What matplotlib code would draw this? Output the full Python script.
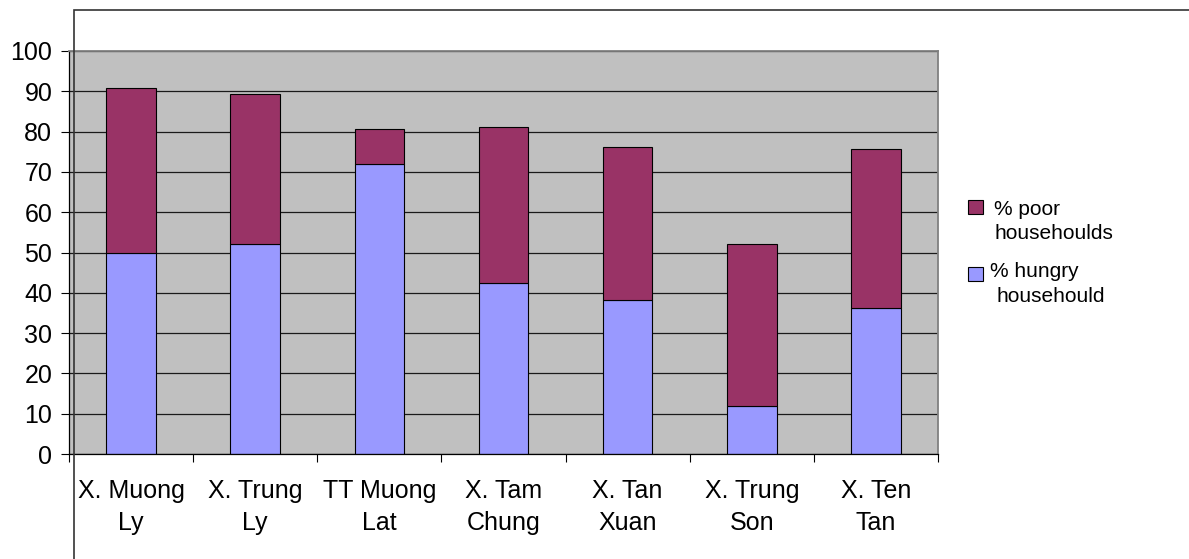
import matplotlib
matplotlib.use("Agg")
import matplotlib.pyplot as plt
from matplotlib.patches import Rectangle

plt.rcParams['font.family'] = ['Liberation Sans', 'DejaVu Sans']

# commune data (% of households)
communes = ['X. Muong\nLy', 'X. Trung\nLy', 'TT Muong\nLat', 'X. Tam\nChung',
            'X. Tan\nXuan', 'X. Trung\nSon', 'X. Ten\nTan']
hungry = [49.9, 52.1, 71.9, 42.4, 38.2, 12.0, 36.2]
total = [90.8, 89.3, 80.7, 81.1, 76.2, 52.1, 75.7]
poor = [t - h for t, h in zip(total, hungry)]
yticks = list(range(0, 101, 10))

W, H = 1189, 559


def fx(x):
    return x / W


def fy(y):
    return 1 - y / H


fig = plt.figure(figsize=(W / 100, H / 100), dpi=100)
ax = fig.add_axes([fx(69), fy(454), fx(938) - fx(69), fy(51) - fy(454)])
ax.set_facecolor('#C0C0C0')

x = list(range(len(communes)))
ax.bar(x, hungry, width=0.4, color='#9999FF', edgecolor='black', linewidth=0.8)
ax.bar(x, poor, bottom=hungry, width=0.4, color='#993366', edgecolor='black', linewidth=0.8)

ax.set_xlim(-0.5, len(communes) - 0.5)
ax.set_ylim(0, 100)
ax.set_yticks(yticks)
ax.set_yticklabels([str(v) for v in yticks])
ax.set_xticks(x)
ax.set_xticklabels(communes, linespacing=1.4)
ax.set_xticks([i - 0.5 for i in range(len(communes) + 1)], minor=True)

ax.tick_params(axis='y', direction='out', length=6, width=0.8, pad=6, labelsize=18)
ax.tick_params(axis='x', which='major', length=0, pad=18, labelsize=18)
ax.tick_params(axis='x', which='minor', direction='out', length=6, width=0.8)

ax.set_axisbelow(True)
ax.yaxis.grid(True, color='#1a1a1a', linewidth=0.9)

for side in ['top', 'right']:
    ax.spines[side].set_color('#808080')
    ax.spines[side].set_linewidth(1.3)
for side in ['left', 'bottom']:
    ax.spines[side].set_color('black')
    ax.spines[side].set_linewidth(0.9)

# legend drawn by hand: square aligned with the first text line
legend_items = [('#993366', [('% poor', 994, 215), ('househoulds', 994, 239)], 200),
                ('#9999FF', [('% hungry', 990, 277), ('househould', 997, 302)], 267)]
for color, lines, top in legend_items:
    fig.add_artist(Rectangle((fx(968), fy(top + 14)), 15 / W, 14 / H,
                             facecolor=color, edgecolor='black', linewidth=0.8,
                             transform=fig.transFigure))
    for line, lx, base in lines:
        fig.text(fx(lx), fy(base), line, fontsize=15, va='baseline', ha='left')

# outer chart frame
fig.add_artist(Rectangle((fx(74), -0.5), 2, fy(10) + 0.5, fill=False,
                         edgecolor='#333333', linewidth=1.2,
                         transform=fig.transFigure, clip_on=False))

fig.savefig('out.png', dpi=100)
